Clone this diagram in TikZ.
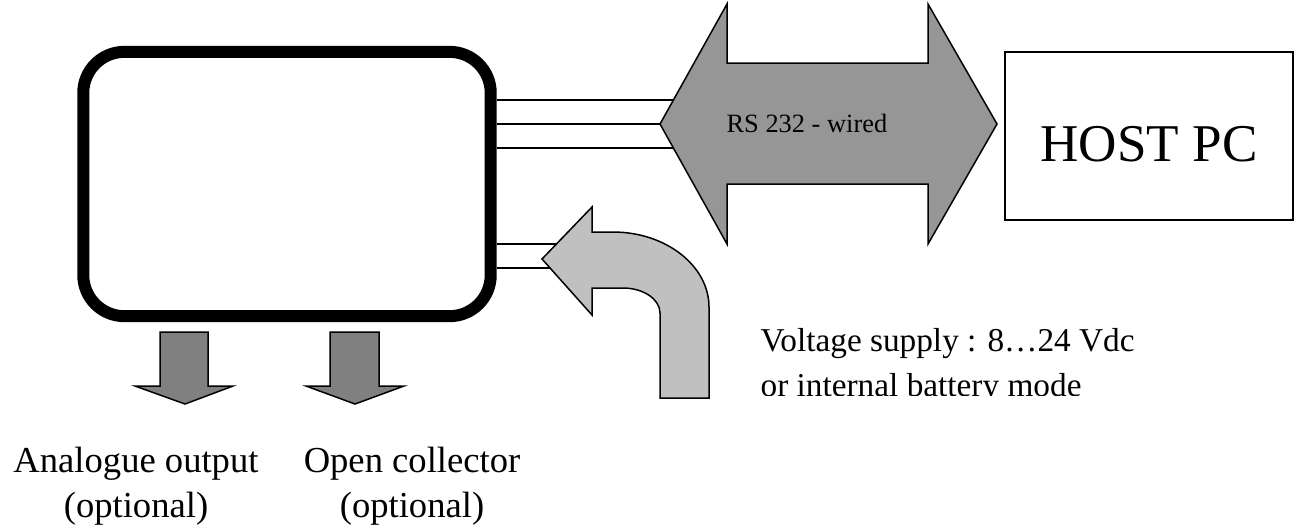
\documentclass[tikz,border=0pt]{standalone}
\usepackage{fontspec}
\setmainfont{Liberation Serif}
\usetikzlibrary{positioning}
\definecolor{linkgray}{RGB}{150,150,150}
\definecolor{supplygray}{RGB}{192,192,192}
\definecolor{outgray}{RGB}{128,128,128}

\begin{document}
\begin{tikzpicture}[x=0.3333pt, y=-0.3333pt, line join=miter,
    shapeline/.style={draw=black, line width=0.5pt},
    wire/.style={draw=black, line width=0.4pt},
    bigtext/.style={font=\fontsize{12.2}{14.7}\selectfont, inner sep=0pt}]
  \useasboundingbox (0,0) rectangle (1298,529);
  % device and its wires
  \node[draw, line width=4pt, rounded corners=13.7pt, minimum width=135.8pt, minimum height=88.1pt, inner sep=0pt] (dev) at (287,184) {};
  \draw[wire] ([yshift=28pt]dev.east) -- ++(70pt,0);
  \draw[wire] ([yshift=20pt]dev.east) -- ++(70pt,0);
  \draw[wire] ([yshift=12pt]dev.east) -- ++(70pt,0);
  \draw[wire] ([yshift=-20pt]dev.east) -- ++(36pt,0);
  \draw[wire] ([yshift=-28pt]dev.east) -- ++(36pt,0);
  % RS 232 link
  \draw[shapeline, fill=linkgray] (660,124) -- (727,4) -- (727,63) -- (928,63) -- (928,4) -- (997,124)
    -- (928,244) -- (928,184) -- (727,184) -- (727,244) -- cycle;
  \node[anchor=base west, inner sep=0pt, font=\fontsize{8.8}{10}\selectfont] (rs) at (726,132) {RS 232 - wired};
  % host
  \node[draw, line width=0.5pt, minimum width=96pt, minimum height=56pt, inner sep=0pt,
    text height=17pt, text depth=0pt, font=\fontsize{17.7}{20}\selectfont] (host) at (1149,136) {HOST PC};
  % supply arrow
  \draw[shapeline, fill=supplygray] (542,259) -- (592,207) -- (592,232) -- (613,232)
    .. controls (666,232) and (709,266) .. (709,307) -- (709,398) -- (660,398) -- (660,313)
    .. controls (660,299) and (643,288) .. (623,288) -- (592,288) -- (592,315) -- cycle;
  \begin{scope}
    \clip (740,300) rectangle (1200,395);
    \node[bigtext, anchor=base west, align=left, font=\fontsize{11.1}{14.7}\selectfont] (supply) at (760,396)
      {Voltage supply : 8…24 Vdc\\or internal battery mode};
  \end{scope}
  % outputs
  \draw[shapeline, fill=outgray] (160,332) -- (208,332) -- (208,386) -- (233,386) -- (185,404)
    -- (135,386) -- (160,386) -- cycle;
  \draw[shapeline, fill=outgray] (330,332) -- (379,332) -- (379,386) -- (404,386) -- (355,404)
    -- (306,386) -- (330,386) -- cycle;
  \node[bigtext, anchor=base, align=center] (aout) at (136,517) {Analogue output\\(optional)};
  \node[bigtext, anchor=base, align=center] (ocol) at (412,517) {Open collector\\(optional)};
\end{tikzpicture}
\end{document}
